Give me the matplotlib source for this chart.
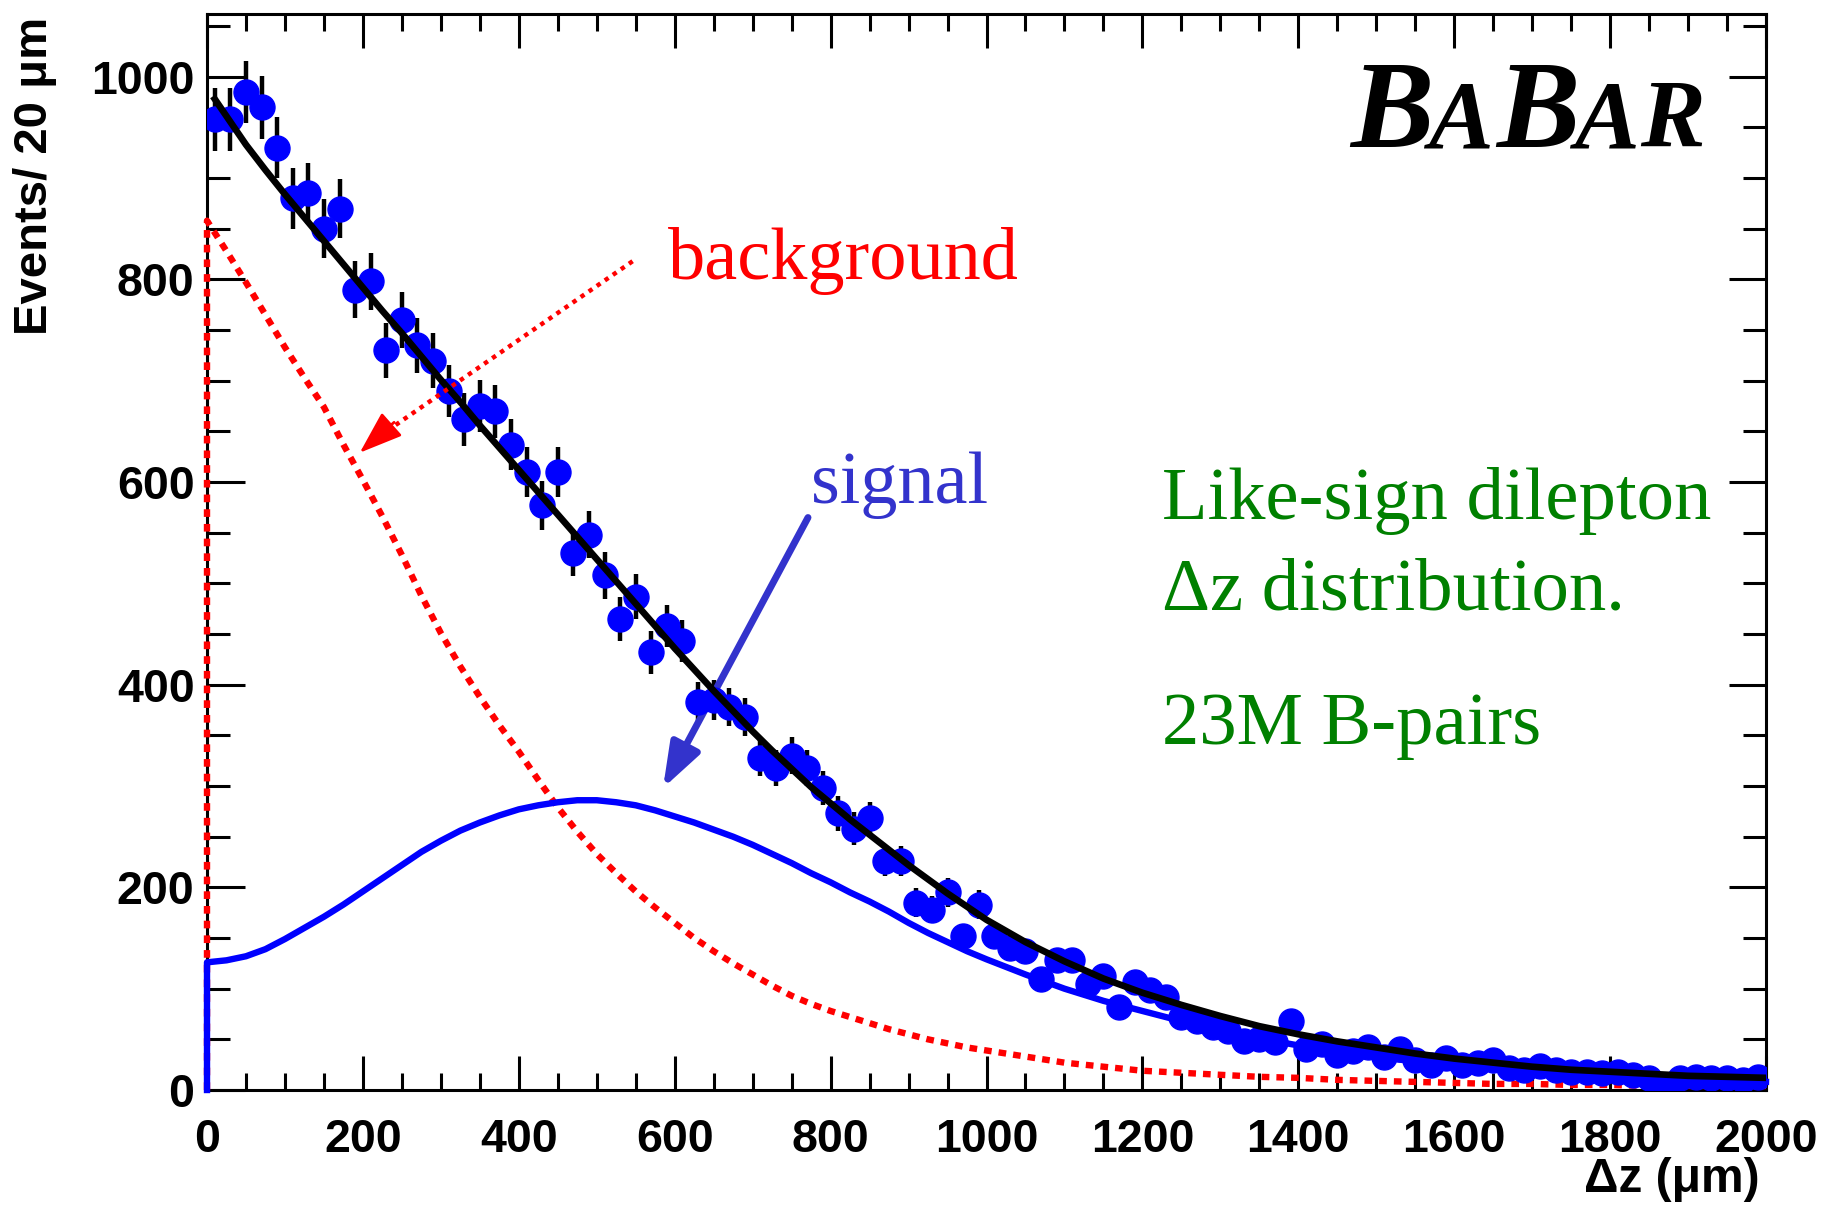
import numpy as np
import matplotlib.pyplot as plt
from matplotlib.ticker import MultipleLocator

W, H = 1822, 1206

# histogram: Events / 20 um
bin_centres = np.arange(10, 2000, 20)
counts = [958, 958, 985, 970, 930, 880, 885, 850, 870, 790,
          798, 730, 760, 735, 720, 690, 662, 675, 670, 637,
          610, 577, 610, 530, 548, 508, 465, 487, 432, 458,
          443, 383, 385, 378, 368, 328, 318, 330, 318, 298,
          273, 258, 268, 226, 226, 185, 178, 195, 152, 183,
          152, 140, 137, 110, 128, 128, 105, 113, 82, 107,
          99, 92, 72, 68, 62, 58, 48, 50, 47, 68,
          40, 45, 35, 38, 42, 33, 40, 30, 25, 32,
          25, 27, 30, 22, 20, 24, 20, 18, 18, 17,
          18, 15, 12, 5, 12, 13, 12, 12, 10, 13]
errors = [31, 31, 31, 31, 30, 30, 30, 29, 29, 28,
          28, 27, 28, 27, 27, 26, 26, 26, 26, 25,
          25, 24, 25, 23, 23, 23, 22, 22, 21, 21,
          21, 20, 20, 19, 19, 18, 18, 18, 18, 17,
          17, 16, 16, 15, 15, 14, 13, 14, 12, 14,
          12, 12, 12, 10, 11, 11, 10, 11, 9, 10,
          10, 10, 8, 8, 8, 8, 7, 7, 7, 8,
          6, 7, 6, 6, 6, 6, 6, 5, 5, 6,
          5, 5, 5, 5, 4, 5, 4, 4, 4, 4,
          4, 4, 3, 2, 3, 4, 3, 3, 3, 4]

# fit curves: sampled every 25 um up to 1000, then every 50 um
curve_x = list(range(0, 1000, 25)) + list(range(1000, 2001, 50))
total_fit = [978, 959, 933, 908, 884, 861, 838, 815, 792, 769,
             747, 724, 701, 679, 656, 634, 612, 590, 568, 546,
             524, 502, 480, 458, 436, 415, 394, 374, 354, 335,
             317, 299, 283, 267, 252, 237, 222, 208, 194, 181,
             168, 146, 127, 110, 96, 84, 73, 63, 55, 48,
             42, 36, 31, 27, 23, 20, 18, 16, 14, 13, 12]
signal_fit = [126, 128, 132, 139, 149, 160, 171, 183, 196, 209,
              222, 235, 246, 256, 264, 271, 277, 281, 284, 286,
              286, 284, 281, 276, 270, 264, 257, 250, 242, 233,
              224, 214, 205, 195, 186, 176, 165, 155, 146, 137,
              129, 114, 100, 88, 78, 68, 59, 51, 44, 38,
              33, 28, 24, 21, 18, 15, 13, 11, 10, 9, 8]
background_fit = [858, 828, 797, 765, 733, 703, 674, 637, 602, 566,
                  528, 488, 451, 418, 388, 360, 334, 306, 279, 255,
                  233, 214, 196, 180, 165, 150, 137, 125, 114, 103,
                  93, 85, 78, 72, 66, 60, 55, 50, 46, 42,
                  39, 33, 27, 23, 19, 17, 15, 13, 12, 10,
                  9, 8, 7, 6, 6, 5, 5, 4, 4, 4, 4]

SERIF = ["Liberation Serif", "DejaVu Serif"]
SANS = ["Liberation Sans", "DejaVu Sans"]


def fxy(px, py):
    return px / W, 1 - py / H


def main():
    fig = plt.figure(figsize=(W / 100, H / 100), dpi=100)
    ax = fig.add_axes([207 / W, 1 - 1090 / H, (1766 - 207) / W, (1090 - 14) / H])

    # curves, with the vertical edge at dz = 0
    ax.plot([0] + curve_x, [0] + background_fit, color="red", lw=4.6,
            linestyle=(0, (1.2, 1.1)), zorder=2.6, clip_on=False)
    ax.plot([0] + curve_x, [0] + signal_fit, color="#0000ff", lw=4.6, zorder=2.7,
            clip_on=False)

    ax.errorbar(bin_centres, counts, yerr=errors, fmt="o", color="#0000ff",
                ms=18, mec="#0000ff", ecolor="black", elinewidth=3.2, capsize=0, zorder=3)
    ax.plot([10] + curve_x[2:], total_fit[:1] + total_fit[2:], color="black", lw=4.8, zorder=4)

    ax.set_xlim(0, 2000)
    ax.set_ylim(0, 1062)
    ax.xaxis.set_major_locator(MultipleLocator(200))
    ax.xaxis.set_minor_locator(MultipleLocator(50))
    ax.yaxis.set_major_locator(MultipleLocator(200))
    ax.yaxis.set_minor_locator(MultipleLocator(50))
    ax.tick_params(which="both", direction="in", top=True, right=True, width=2.2, color="black")
    ax.tick_params(axis="x", which="major", length=24.5, pad=20)
    ax.tick_params(axis="x", which="minor", length=12)
    ax.tick_params(axis="y", which="major", length=27, pad=9)
    ax.tick_params(axis="y", which="minor", length=16.5)
    for lab in ax.get_xticklabels() + ax.get_yticklabels():
        lab.set_fontfamily(SANS)
        lab.set_fontweight("bold")
        lab.set_fontsize(33.5)
    for sp in ax.spines.values():
        sp.set_linewidth(2.2)

    # axis titles
    fig.text(*fxy(35, 17), "Events/ 20 \u03bcm", rotation=90, ha="center", va="top",
             fontsize=34, fontweight="bold", family=SANS)
    fig.text(*fxy(1760, 1192), "\u0394z (\u03bcm)", ha="right", va="baseline",
             fontsize=34.5, fontweight="bold", family=SANS)

    # annotations
    ax.text(*fxy(668, 279), "background", transform=fig.transFigure, color="red",
            fontsize=53.5, family=SERIF, va="baseline")
    ax.text(*fxy(811, 503), "signal", transform=fig.transFigure, color="#3333cc",
            fontsize=53.5, family=SERIF, va="baseline")
    green = "#008000"
    ax.text(*fxy(1162, 519), "Like-sign dilepton", transform=fig.transFigure, color=green,
            fontsize=53.7, family=SERIF, va="baseline")
    ax.text(*fxy(1162, 610), "\u0394z distribution.", transform=fig.transFigure, color=green,
            fontsize=53.7, family=SERIF, va="baseline")
    ax.text(*fxy(1162, 744), "23M B-pairs", transform=fig.transFigure, color=green,
            fontsize=53.7, family=SERIF, va="baseline")

    # red arrow: dotted shaft, solid head
    ax.plot([546, 215], [818, 642], color="red", lw=3.2, linestyle=(0, (1, 1.2)), zorder=5)
    ax.annotate("", xy=(196, 629), xytext=(240, 659),
                arrowprops=dict(arrowstyle="-|>,head_length=0.9,head_width=0.32", color="red",
                                lw=2, mutation_scale=30, shrinkA=0, shrinkB=0))
    ax.annotate("", xy=(585, 298), xytext=(771, 565),
                arrowprops=dict(arrowstyle="-|>,head_length=0.9,head_width=0.32", color="#3333cc",
                                lw=5, mutation_scale=30, shrinkA=0, shrinkB=0))

    # BaBar logo (small caps)
    logo = [("B", 1350, 90), ("A", 1428, 70), ("B", 1496, 90), ("A", 1574, 70), ("R", 1640, 70)]
    for ch, px, size in logo:
        fig.text(*fxy(px, 147), ch, fontsize=size, fontweight="bold", style="italic",
                 family=SERIF, va="baseline")

    fig.savefig("out.png", dpi=100)


if __name__ == "__main__":
    main()
